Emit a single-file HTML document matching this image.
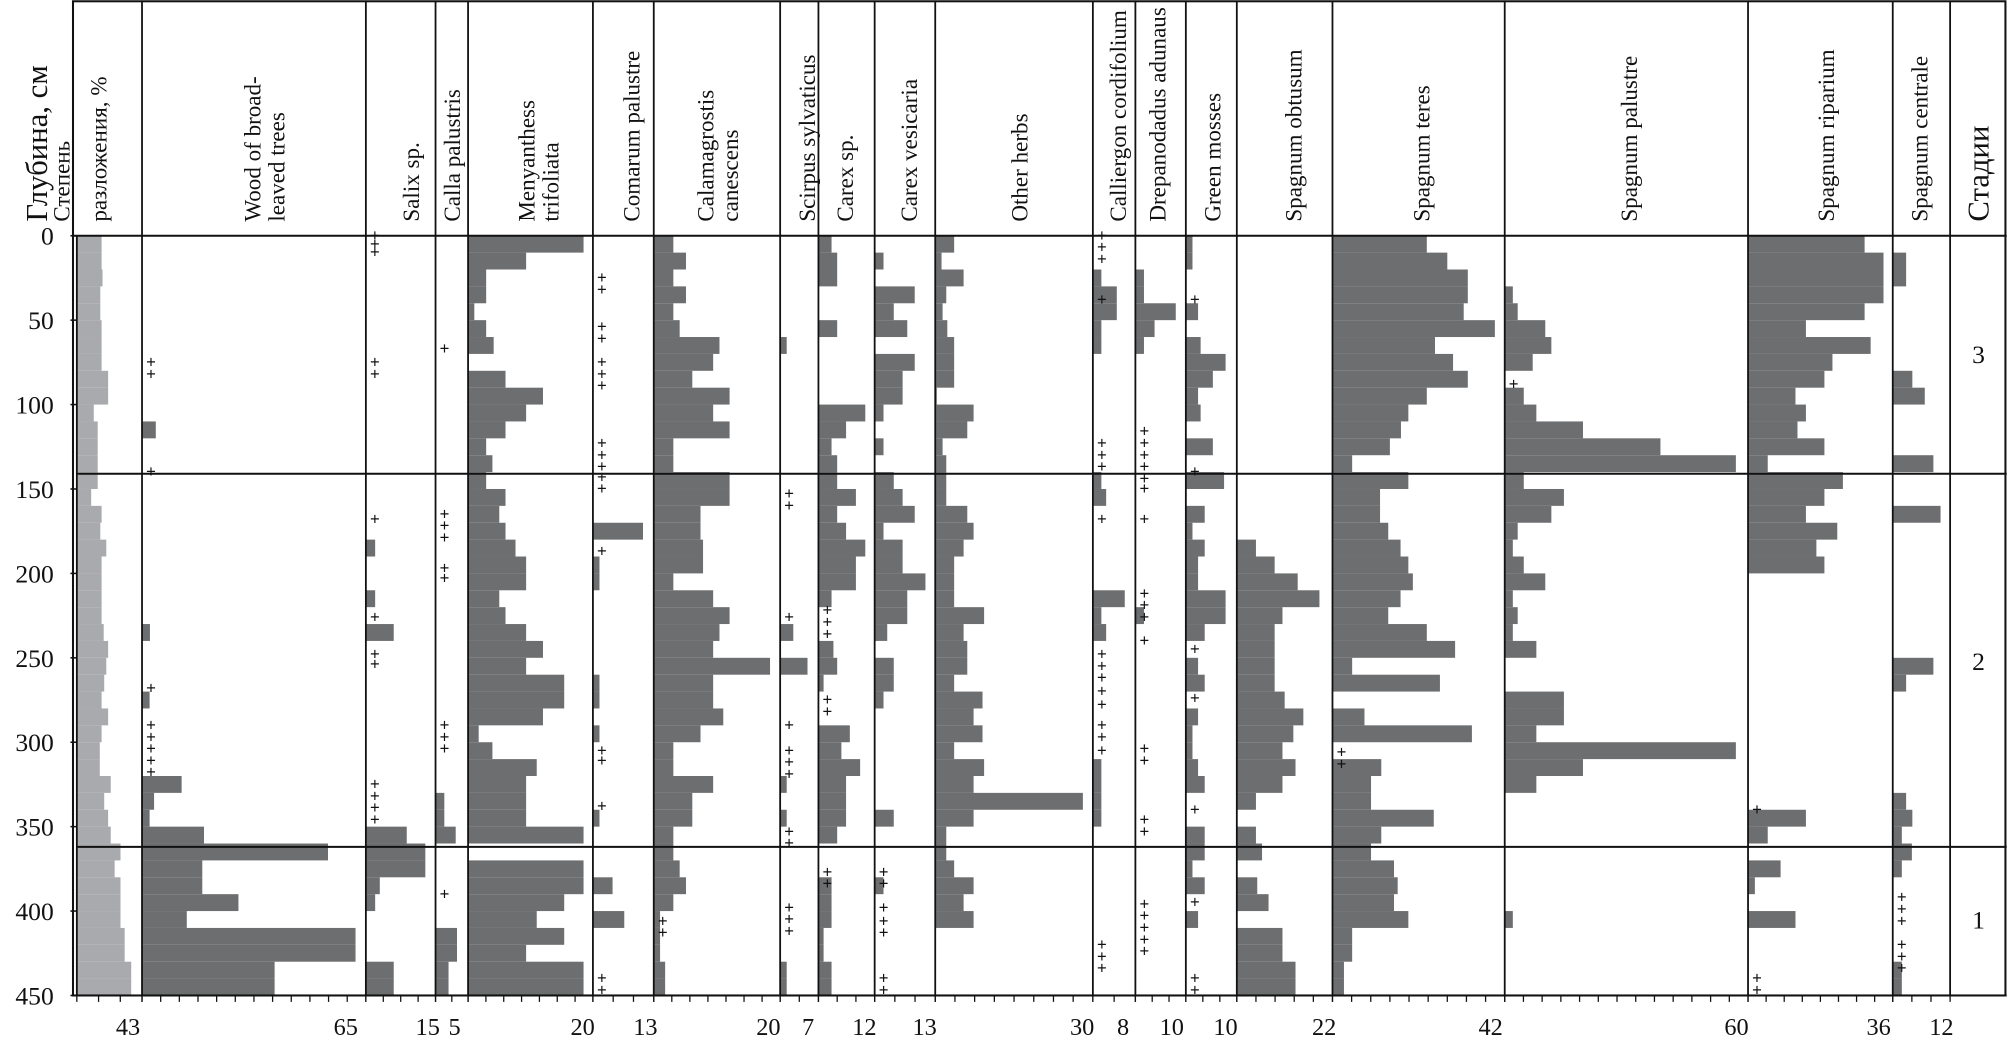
<!DOCTYPE html>
<html><head><meta charset="utf-8"><style>
html,body{margin:0;padding:0;background:#fff;}
svg{display:block;}
</style></head><body>
<svg id="chart" width="2008" height="1048" viewBox="0 0 1568 818" preserveAspectRatio="none" xmlns="http://www.w3.org/2000/svg" font-family="'Liberation Serif', 'Noto Serif CJK SC', serif"></svg>
<script>
// ---- data: values per 10-cm depth bin (0-450 cm, 45 bins) ----
const depthTicks=[0,50,100,150,200,250,300,350,400,450];
const stageBounds=[141,362];
const stageLabels=["3","2","1"];
const stageCenters=[70,252,405];
const degreeVals=[19,19,19.7,18,18,19,19,19,24,24,13,16,16,16,16,11,19,18,22.6,19,19,19,19,20.6,24,22.6,21,19,24,19,17.6,17.6,26,21,24,26,33.5,29,33.5,33.5,33.5,36.7,36.7,41.7,41.7];
const woodVals=[0,0,0,0,0,0,0,0,0,0,0,4,0,0,0,0,0,0,0,0,0,0,0,2.3,0,0,0,2.2,0,0,0,0,11.5,3.5,2.2,18,54,17.5,17.5,28,13,62,62,38.5,38.5];
const salixVals=[0,0,0,0,0,0,0,0,0,0,0,0,0,0,0,0,0,0,2,0,0,2,0,6,0,0,0,0,0,0,0,0,0,0,0,8.8,12.8,12.8,3,2,0,0,0,6,6];
const callaVals=[0,0,0,0,0,0,0,0,0,0,0,0,0,0,0,0,0,0,0,0,0,0,0,0,0,0,0,0,0,0,0,0,0,1.35,1.35,3.1,0,0,0,0,0,3.3,3.3,2,2];
const menyVals=[18.5,9.3,2.9,2.9,1,2.9,4.1,0,6,12,9.3,6,2.9,3.9,2.9,6,5,6,7.6,9.3,9.3,5,6,9.3,12,9.3,15.4,15.4,12,1.7,3.9,11,9.3,9.3,9.3,18.5,0,18.5,18.5,15.4,11,15.4,9.3,18.5,18.5];
const comarumVals=[0,0,0,0,0,0,0,0,0,0,0,0,0,0,0,0,0,10.7,0,1.4,1.4,0,0,0,0,0,1.4,1.4,0,1.4,0,0,0,0,1.4,0,0,0,4.2,0,6.7,0,0,0,0];
const calamVals=[3.1,5.1,3.1,5.1,3.1,4.1,10.4,9.4,6.1,12,9.4,12,3.1,3.1,12,12,7.4,7.4,7.8,7.8,3.1,9.4,12,10.4,9.4,18.4,9.4,9.4,11,7.4,3.1,3.1,9.4,6.1,6.1,3.1,3.1,4.1,5.1,3.1,1,1,1,1.8,1.8];
const scirpusVals=[0,0,0,0,0,0,1.2,0,0,0,0,0,0,0,0,0,0,0,0,0,0,0,0,2.4,0,5,0,0,0,0,0,0,1.2,0,1.2,0,0,0,0,0,0,0,0,1.2,1.2];
const carexSpVals=[2.8,4,4,0,0,4,0,0,0,0,10,5.9,2.8,4,4,8,4,5.9,10,8,8,2.8,0,0,3.2,4,1.1,0,0,6.7,4.9,8.9,5.9,5.9,5.9,4,0,0,2.8,2.8,2.8,1.1,1.1,2.8,2.8];
const carexVesVals=[0,1.9,0,8.6,4.1,7,0,8.6,6,6,1.9,0,1.9,0,4.1,6,8.6,1.9,6,6,10.9,7,7,2.7,0,4.1,4.1,1.9,0,0,0,0,0,0,4.1,0,0,0,1.9,0,0,0,0,0,0];
const herbsVals=[3.6,1.2,5.4,2.1,1.4,2.3,3.6,3.6,3.6,0.3,7.3,6.1,1.4,2.1,2.1,2.1,6.1,7.3,5.4,3.6,3.6,3.6,9.3,5.4,6.1,6.1,3.6,9,7.3,9,3.6,9.3,7.3,28.1,7.3,2.1,2.1,3.6,7.3,5.4,7.3,0,0,0,0];
const callierVals=[0,0,1.6,4.5,4.5,1.6,1.6,0,0,0,0,0,0,0,1.6,2.5,0,0,0,0,0,6,1.6,2.5,0,0,0,0,0,0,0,1.6,1.6,1.6,1.6,0,0,0,0,0,0,0,0,0,0];
const drepanoVals=[0,0,1.7,1.7,8,3.8,1.7,0,0,0,0,0,0,0,0,0,0,0,0,0,0,0,1.7,0,0,0,0,0,0,0,0,0,0,0,0,0,0,0,0,0,0,0,0,0,0];
const greenVals=[1.3,1.3,0,0,2.4,0,2.9,7.8,5.3,2.4,2.9,0,5.3,0,7.5,0,3.7,1.3,3.7,2.4,2.4,7.8,7.8,3.7,0,2.4,3.7,0,2.4,1.3,1.3,2.4,3.7,0,0,3.7,3.7,1.3,3.7,0,2.4,0,0,0,0];
const obtusumVals=[0,0,0,0,0,0,0,0,0,0,0,0,0,0,0,0,0,0,4.4,8.7,14,19,10.5,8.7,8.7,8.7,8.7,11,15.3,13,10.5,13.5,10.5,4.4,0,4.4,5.8,0,4.7,7.3,0,10.5,10.5,13.5,13.5];
const teresVals=[23,28,33,33,32,39.6,25,29.4,33,23,18.5,16.7,14,4.8,18.5,11.6,11.6,13.6,16.6,18.5,19.6,16.6,13.6,23,29.9,4.8,26.2,0,7.8,34,0,11.9,9.4,9.4,24.7,11.9,9.4,15,15.9,15,18.5,4.8,4.8,2.8,2.8];
const palustreVals=[0,0,0,2,3.2,10,11.5,6.9,0,4.7,7.8,19.3,38.4,57,4.7,14.6,11.5,3.2,2,4.7,10,2,3.2,2,7.8,0,0,14.6,14.6,7.8,57,19.3,7.8,0,0,0,0,0,0,0,2,0,0,0,0];
const ripariumVals=[29,33.7,33.7,33.7,29,14.4,30.5,21,19,11.8,14.4,12.3,19,4.9,23.6,19,14.4,22.2,17,19,0,0,0,0,0,0,0,0,0,0,0,0,0,0,14.4,4.9,0,8.1,1.7,0,11.8,0,0,0,0];
const centraleVals=[0,2.8,2.8,0,0,0,0,0,4.1,6.7,0,0,0,8.5,0,0,10,0,0,0,0,0,0,0,0,8.5,2.8,0,0,0,0,0,0,2.8,4.1,1.9,4,1.9,0,0,0,0,0,1.9,1.9];
// presence marks (+) depths
const woodPlus=[75,82,140,268,290,297,304,311,318];
const salixPlus=[0,5,10,75,82,168,226,248,254,325,332,339,346];
const callaPlus=[67,165,172,179,197,203,290,297,304,390];
const comarumPlus=[25,32,54,61,75,82,89,123,130,137,143,150,187,305,311,338,440,447];
const calamPlus=[406,413];
const scirpusPlus=[153,160,226,290,305,312,319,353,360,398,405,412];
const carexSpPlus=[222,229,236,275,282,377,384];
const carexVesPlus=[377,384,398,406,413,440,447];
const callierPlus=[0,7,14,38,123,130,137,168,248,255,262,270,278,290,297,305,420,427,434];
const drepanoPlus=[116,123,130,137,144,150,168,212,219,226,240,304,311,346,353,396,403,410,417,424];
const greenPlus=[38,140,245,274,340,395,440,447];
const teresPlus=[306,313];
const palustrePlus=[88];
const ripariumPlus=[340,440,447];
const centralePlus=[392,399,406,420,427,434];

const columns=[
 {key:'degree',vals:degreeVals,plus:[],x0:60,x1:110.9,max:50,fill:'#a9aaae',tick:'43',tickX:100,labels:['Степень','разложения, %'],lx:[48,77]},
 {key:'wood',vals:woodVals,plus:woodPlus,x0:110.9,x1:285.7,max:65,tick:'65',tickX:270,labels:['Wood of broad-','leaved trees'],lx:[197,216]},
 {key:'salix',vals:salixVals,plus:salixPlus,x0:285.7,x1:340.1,max:15,tick:'15',tickX:334,labels:['Salix sp.'],lx:[321]},
 {key:'calla',vals:callaVals,plus:callaPlus,x0:340.1,x1:365.5,max:5,tick:'5',tickX:355,labels:['Calla palustris'],lx:[353]},
 {key:'menyanthes',vals:menyVals,plus:[],x0:365.5,x1:463,max:20,tick:'20',tickX:455,labels:['Menyanthess','trifoliata'],lx:[411,430]},
 {key:'comarum',vals:comarumVals,plus:comarumPlus,x0:463,x1:510.5,max:13,tick:'13',tickX:504,labels:['Comarum palustre'],lx:[493]},
 {key:'calamagrostis',vals:calamVals,plus:calamPlus,x0:510.5,x1:609.2,max:20,tick:'20',tickX:600,labels:['Calamagrostis','canescens'],lx:[551,570]},
 {key:'scirpus',vals:scirpusVals,plus:scirpusPlus,x0:609.2,x1:639.1,max:7,tick:'7',tickX:631,labels:['Scirpus sylvaticus'],lx:[630]},
 {key:'carex-sp',vals:carexSpVals,plus:carexSpPlus,x0:639.1,x1:683,max:12,tick:'12',tickX:675,labels:['Carex sp.'],lx:[660]},
 {key:'carex-vesicaria',vals:carexVesVals,plus:carexVesPlus,x0:683,x1:730.3,max:13,tick:'13',tickX:722,labels:['Carex vesicaria'],lx:[710]},
 {key:'other-herbs',vals:herbsVals,plus:[],x0:730.3,x1:853.4,max:30,tick:'30',tickX:845,labels:['Other herbs'],lx:[796]},
 {key:'calliergon',vals:callierVals,plus:callierPlus,x0:853.4,x1:886.6,max:8,tick:'8',tickX:877,labels:['Calliergon cordifolium'],lx:[873]},
 {key:'drepanocladus',vals:drepanoVals,plus:drepanoPlus,x0:886.6,x1:926,max:10,tick:'10',tickX:915,labels:['Drepanodadus adunaus'],lx:[904]},
 {key:'green-mosses',vals:greenVals,plus:greenPlus,x0:926,x1:965.8,max:10,tick:'10',tickX:957,labels:['Green mosses'],lx:[947]},
 {key:'spagnum-obtusum',vals:obtusumVals,plus:[],x0:965.8,x1:1040.5,max:22,tick:'22',tickX:1034,labels:['Spagnum obtusum'],lx:[1010]},
 {key:'spagnum-teres',vals:teresVals,plus:teresPlus,x0:1040.5,x1:1175,max:42,tick:'42',tickX:1164,labels:['Spagnum teres'],lx:[1110]},
 {key:'spagnum-palustre',vals:palustreVals,plus:palustrePlus,x0:1175,x1:1365,max:60,tick:'60',tickX:1356,labels:['Spagnum palustre'],lx:[1272]},
 {key:'spagnum-riparium',vals:ripariumVals,plus:ripariumPlus,x0:1365,x1:1478,max:36,tick:'36',tickX:1467,labels:['Spagnum riparium'],lx:[1426]},
 {key:'spagnum-centrale',vals:centraleVals,plus:centralePlus,x0:1478,x1:1522.8,max:12,tick:'12',tickX:1516,labels:['Spagnum centrale'],lx:[1499]}
];

const NS='http://www.w3.org/2000/svg';
const svg=document.getElementById('chart');
const TOP=184, BOT=777, DMAX=450;
function yScale(d){return TOP+d*(BOT-TOP)/DMAX;}
function xScale(col,v){return col.x0+v/col.max*(col.x1-col.x0);}
function mk(tag,attrs,parent){const e=document.createElementNS(NS,tag);for(const k in attrs)e.setAttribute(k,attrs[k]);(parent||svg).appendChild(e);return e;}

columns.forEach(col=>{
  const g=mk('g',{});
  
  
  col.vals.forEach((v,i)=>{
    if(v<=0)return;
    const y0=yScale(i*10), y1=yScale(i*10+10);
    const r=mk('rect',{x:col.x0,y:y0,width:xScale(col,v)-col.x0,height:y1-y0,fill:col.fill||'#6d6e70'},g);
    
    
  });
  col.plus.forEach(d=>{
    const t=mk('text',{x:col.x0+7,y:yScale(d)+4,'font-size':13,'text-anchor':'middle',fill:'#111','font-family':"'Liberation Sans',sans-serif"},g);
    t.textContent='+';
    
    
  });
  col.labels.forEach((txt,j)=>{
    const t=mk('text',{x:0,y:0,transform:'translate('+col.lx[j]+' 173) rotate(-90)','font-size':18,'dominant-baseline':'central','text-anchor':'start',fill:'#111'});
    t.textContent=txt;
    
    
  });
  const bl=mk('text',{x:col.tickX,y:808,'font-size':19,'text-anchor':'middle',fill:'#111'});
  bl.textContent=col.tick;
  
  
  const n=Math.max(2,Math.round((col.x1-col.x0)/15));
  for(let k=0;k<=n;k++){
    const x=col.x0+k*(col.x1-col.x0)/n;
    const tk=mk('line',{x1:x,x2:x,y1:BOT,y2:BOT+5,stroke:'#111','stroke-width':1});
    
    
  }
});

const frame=mk('rect',{x:57,y:1,width:1509,height:BOT-1,fill:'none',stroke:'#111','stroke-width':1.6});


const hl=mk('line',{x1:57,x2:1567,y1:TOP,y2:TOP,stroke:'#111','stroke-width':1.6});


columns.forEach(col=>{
  const l=mk('line',{x1:col.x1,x2:col.x1,y1:1,y2:BOT,stroke:'#111','stroke-width':1.4});
  
  
});
const ax=mk('line',{x1:60,x2:60,y1:TOP,y2:BOT,stroke:'#111','stroke-width':1.4});


const bx=mk('line',{x1:57,x2:1567,y1:BOT,y2:BOT,stroke:'#111','stroke-width':1.4});


stageBounds.forEach(d=>{
  const l=mk('line',{x1:60,x2:1567,y1:yScale(d),y2:yScale(d),stroke:'#111','stroke-width':1.6});
  
  
});
stageLabels.forEach((s,i)=>{
  const t=mk('text',{x:1545,y:yScale(stageCenters[i])+7,'font-size':20,'text-anchor':'middle',fill:'#111'});
  t.textContent=s;
  
  
});
depthTicks.forEach(d=>{
  const t=mk('text',{x:42,y:yScale(d)+7,'font-size':20,'text-anchor':'end',fill:'#111'});
  t.textContent=d;
  
  
  const tk=mk('line',{x1:55,x2:60,y1:yScale(d),y2:yScale(d),stroke:'#111','stroke-width':1.2});
  
  
});
const yt=mk('text',{x:0,y:0,transform:'translate(29 173) rotate(-90)','font-size':24,'dominant-baseline':'central',fill:'#111'});
yt.textContent='Глубина, см';


const st=mk('text',{x:0,y:0,transform:'translate(1545 173) rotate(-90)','font-size':24,'dominant-baseline':'central',fill:'#111'});
st.textContent='Стадии';


</script>
</body></html>
